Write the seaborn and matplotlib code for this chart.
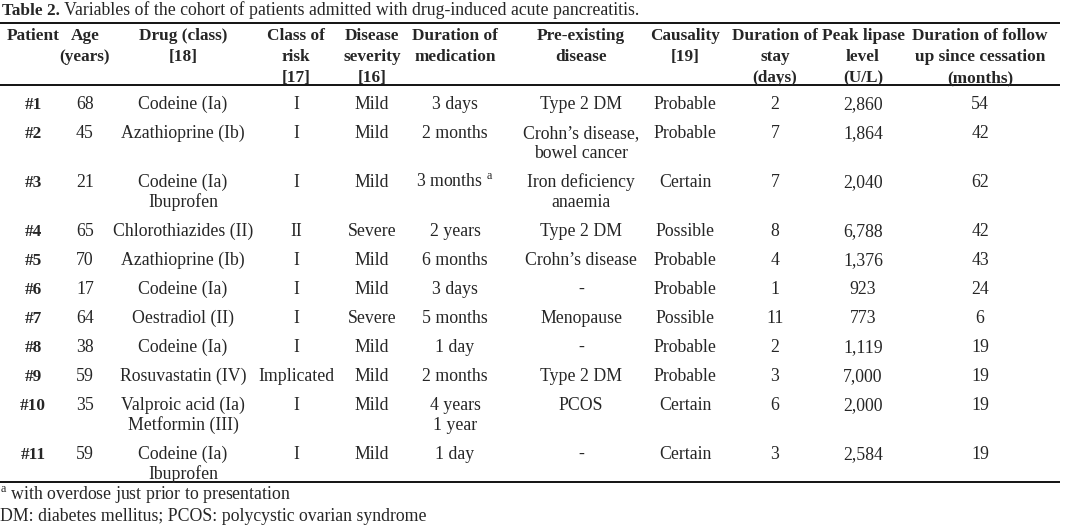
"""
Table 2 recreation: variables of the cohort of patients admitted with
drug-induced acute pancreatitis, drawn as text on a blank seaborn canvas.
"""

import matplotlib
matplotlib.use("Agg")
import matplotlib.pyplot as plt
import seaborn as sns

# ----------------------------------------------------------------
# Data
# ----------------------------------------------------------------
patients = ["#1", "#2", "#3", "#4", "#5", "#6", "#7", "#8", "#9", "#10", "#11"]
ages = [68, 45, 21, 65, 70, 17, 64, 38, 59, 35, 59]
drugs = ["Codeine (Ia)", "Azathioprine (Ib)", "Codeine (Ia)\nIbuprofen",
         "Chlorothiazides (II)", "Azathioprine (Ib)", "Codeine (Ia)",
         "Oestradiol (II)", "Codeine (Ia)", "Rosuvastatin (IV)",
         "Valproic acid (Ia)\nMetformin (III)", "Codeine (Ia)\nIbuprofen"]
risk_class = ["I", "I", "I", "II", "I", "I", "I", "I", "Implicated", "I", "I"]
severity = ["Mild", "Mild", "Mild", "Severe", "Mild", "Mild", "Severe",
            "Mild", "Mild", "Mild", "Mild"]
med_duration = ["3 days", "2 months", "3 months $^{\\rm a}$", "2 years",
                "6 months", "3 days", "5 months", "1 day", "2 months",
                "4 years\n1 year", "1 day"]
pre_existing = ["Type 2 DM", "Crohn\u2019s disease,\nbowel cancer",
                "Iron deficiency\nanaemia", "Type 2 DM", "Crohn\u2019s disease",
                "-", "Menopause", "-", "Type 2 DM", "PCOS", "-"]
causality = ["Probable", "Probable", "Certain", "Possible", "Probable",
             "Probable", "Possible", "Probable", "Probable", "Certain", "Certain"]
stay_days = [2, 7, 7, 8, 4, 1, 11, 2, 3, 6, 3]
peak_lipase = [2860, 1864, 2040, 6788, 1376, 923, 773, 1119, 7000, 2000, 2584]
follow_up = [54, 42, 62, 42, 43, 24, 6, 19, 19, 19, 19]

headers = ["Patient", "Age\n(years)", "Drug (class)\n[18]", "Class of\nrisk\n[17]",
           "Disease\nseverity\n[16]", "Duration of\nmedication",
           "Pre-existing\ndisease", "Causality\n[19]",
           "Duration of\nstay\n(days)", "Peak lipase\nlevel\n(U/L)",
           "Duration of follow\nup since cessation\n(months)"]

title_bold = "Table 2."
title_rest = " Variables of the cohort of patients admitted with drug-induced acute pancreatitis."
footnotes = ["$^{\\rm a}$ with overdose just prior to presentation",
             "DM: diabetes mellitus; PCOS: polycystic ovarian syndrome"]

# ----------------------------------------------------------------
# Style
# ----------------------------------------------------------------
sns.set_style("white")
plt.rcParams["font.family"] = ["Liberation Serif", "DejaVu Serif"]
plt.rcParams["mathtext.fontset"] = "custom"
plt.rcParams["mathtext.rm"] = "Liberation Serif"
FS = 12.75
FS_HEAD = 12.4

columns = [patients, [str(a) for a in ages], drugs, risk_class, severity,
           med_duration, pre_existing, causality, [str(s) for s in stay_days],
           [f"{v:,}" for v in peak_lipase], [str(f) for f in follow_up]]
col_x = [33, 85, 183, 296, 372, 455, 581, 685, 775, 863, 980]

fig = plt.figure(figsize=(10.68, 5.31), dpi=100)
ax = fig.add_axes([0, 0, 1, 1])
ax.set_xlim(0, 1068)
ax.set_ylim(531, 0)
ax.axis("off")

# title
t = ax.text(2, 15, title_bold, fontsize=FS_HEAD, fontweight="bold", va="baseline", ha="left")
ax.annotate(title_rest, xy=(1, 0), xycoords=t, va="bottom", ha="left", fontsize=FS)

# rules
for y in (23, 85, 482):
    ax.plot([0, 1060], [y, y], color="black", lw=1.3, solid_capstyle="butt")

# header
for x, h in zip(col_x, headers):
    for i, line in enumerate(h.split("\n")):
        ax.text(x, 40 + 21 * i, line, fontsize=FS_HEAD, fontweight="bold",
                ha="center", va="baseline")

# body rows
y = 109
for r in range(len(patients)):
    nlines = 1
    for x, col in zip(col_x, columns):
        lines = col[r].split("\n")
        nlines = max(nlines, len(lines))
        for i, line in enumerate(lines):
            is_id = col is patients
            ax.text(x, y + 20 * i, line, fontsize=FS_HEAD if is_id else FS,
                    ha="center", va="baseline",
                    fontweight="bold" if is_id else "normal")
    y += 29 + 20 * (nlines - 1)

# footnotes
for i, note in enumerate(footnotes):
    ax.text(0, 500 + 21 * i, note, fontsize=FS, ha="left", va="baseline")

fig.savefig("out.png", dpi=100)
